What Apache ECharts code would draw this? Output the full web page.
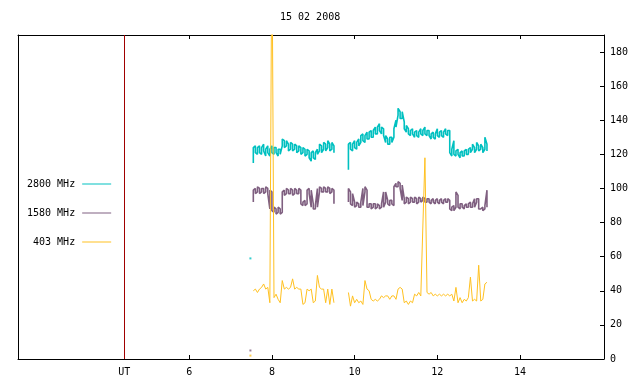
<!DOCTYPE html>
<html><head><meta charset="utf-8">
<script src="https://cdn.jsdelivr.net/npm/echarts@6/dist/echarts.min.js"></script>
<style>html,body{margin:0;padding:0;background:#fff}#c{width:640px;height:384px}</style>
</head><body><div id="c"></div>
<script>
const chartTitle = '15 02 2008';
const seriesNames = ['2800 MHz', '1580 MHz', '403 MHz'];
const seriesColors = ['#00c0c0', '#7f5f80', '#ffc020'];
const startHour = 7.55, stepHour = 0.05;
// 2800 MHz: low / high edge of the noisy trace at each sample time
const lo2800 = [
115,121,120,121,120,122,119,121,119,121,
120,121,119,120,125,124,125,122,123,122,
123,121,122,120,121,119,120,118,116,118,
117,120,122,121,123,122,124,122,123,121,
null,null,null,null,null,null,
111,123,122,124,123,125,127,128,127,129,
129,130,130,132,132,134,132,131,127,126,
126,127,130,136,143,141,141,135,133,132,
131,132,130,131,130,132,131,132,131,131,
129,130,129,131,130,131,130,132,131,121,
119,120,119,120,118,119,119,120,120,121,
123,121,123,122,123,121,123,122];
const hi2800 = [
124,125,124,125,124,126,123,125,123,125,
124,124,123,123,129,128,128,126,127,126,
126,125,125,124,124,123,123,122,121,122,
121,123,126,125,127,126,128,126,127,125,
null,null,null,null,null,null,
126,127,126,128,127,129,131,132,131,133,
133,134,134,136,136,138,136,135,131,129,
130,130,135,140,147,145,145,139,137,135,
134,135,133,134,133,135,134,136,134,134,
132,133,132,135,133,134,133,135,134,134,
123,128,122,123,121,122,122,123,123,124,
126,124,127,125,126,124,130,126];
// 1580 MHz: low / high edge of the trace
const lo1580 = [
92,97,98,97,98,97,98,97,88,87,
86,85,86,85,86,96,97,97,97,96,
97,97,97,91,90,90,91,97,89,88,
88,89,98,98,98,98,98,97,98,91,
null,null,null,null,null,null,
92,91,90,89,90,89,89,90,98,89,
89,88,89,88,89,88,89,89,92,91,
90,91,90,101,101,100,93,91,92,91,
92,92,92,91,92,92,93,92,92,92,
91,92,91,92,91,92,91,92,92,88,
87,87,89,89,88,89,88,89,89,89,
89,89,92,88,88,87,88,89];
const hi1580 = [
99,100,101,100,100,100,101,100,99,98,
89,88,89,88,98,99,100,99,100,99,
100,99,100,99,92,93,99,100,99,91,
90,100,101,100,101,100,101,100,100,99,
null,null,null,null,null,null,
100,98,97,92,92,91,92,100,101,99,
91,91,91,91,91,90,91,98,98,93,
93,93,101,103,104,103,102,94,95,94,
95,94,95,94,95,94,95,94,94,94,
93,94,93,94,93,94,93,94,94,93,
89,90,98,96,91,91,90,91,91,92,
91,94,94,94,89,89,90,99];
// 403 MHz trace
const f403 = [
40,41,39,41,42,44,41,42,33,250,
36,38,35,33,46,41,42,41,42,47,
41,42,41,41,32,33,41,40,41,33,
34,49,42,41,41,33,41,32,41,33,
null,null,null,null,null,null,
39,31,37,33,35,33,34,32,46,41,
40,35,34,35,34,35,37,36,37,37,
35,37,37,35,41,42,41,33,34,32,
34,33,38,37,39,37,78,118,39,38,
39,37,38,37,38,37,38,37,38,37,
38,34,42,33,36,33,35,34,36,48,
34,35,34,55,34,35,44,45];
const isolatedHour = 7.48;
const isolatedValues = [59, 5, 2];
const xTickValues = [6, 8, 10, 12, 14];
const utHour = 4.43;
const utLabel = 'UT';
const yTickValues = [0, 20, 40, 60, 80, 100, 120, 140, 160, 180];
const xMin = 1.86, xMax = 16.03, yMin = 0, yMax = 190;

const FONT = 'DejaVu Sans Mono';
const hourAt = i => +(startHour + stepHour * i).toFixed(2);
const bandPairs = (lo, hi) => {
  const out = [];
  lo.forEach((l, i) => {
    const t = hourAt(i);
    if (l === null) { out.push([t, null]); return; }
    if (i % 2 === 0) { out.push([t, l], [t, hi[i]]); } else { out.push([t, hi[i]], [t, l]); }
  });
  return out;
};
const linePairs = vals => vals.map((v, i) => [hourAt(i), v]);
const dataSets = [bandPairs(lo2800, hi2800), bandPairs(lo1580, hi1580), linePairs(f403)];
const lineWidths = [1.6, 1.6, 1];

const series = dataSets.map((d, k) => ({
  type: 'line', name: seriesNames[k], data: d,
  symbol: 'none', connectNulls: false, clip: true,
  lineStyle: { width: lineWidths[k], color: seriesColors[k] },
  itemStyle: { color: seriesColors[k] },
  animation: false
}));
series[0].markLine = {
  silent: true, symbol: ['none', 'none'], label: { show: false }, animation: false,
  lineStyle: { color: '#a00000', width: 1, type: 'solid' },
  data: [{ xAxis: utHour }]
};
isolatedValues.forEach((v, k) => series.push({
  type: 'scatter', name: 'pt' + k, data: [[isolatedHour, v]], symbol: 'rect', symbolSize: 2,
  itemStyle: { color: seriesColors[k] }, animation: false
}));

const chart = echarts.init(document.getElementById('c'));
chart.setOption({
  animation: false,
  backgroundColor: '#fff',
  title: { text: chartTitle, left: 275, top: 7, textStyle: { fontFamily: FONT, fontSize: 10, fontWeight: 'normal', color: '#000' } },
  grid: { left: 18, right: 36, top: 35, bottom: 25 },
  legend: {
    data: seriesNames, orient: 'vertical', left: 22, top: 174, itemWidth: 29, itemHeight: 1, itemGap: 19,
    icon: 'rect', align: 'right', selectedMode: false,
    formatter: name => '{n|' + name + '}',
    textStyle: { fontFamily: FONT, fontSize: 10, color: '#000', rich: { n: { width: 48, padding: [0, 2, 0, 0], align: 'right', fontFamily: FONT, fontSize: 10, color: '#000' } } }
  },
  xAxis: [{
    type: 'value', min: xMin, max: xMax, position: 'bottom',
    axisLine: { show: true, onZero: false, lineStyle: { color: '#000', width: 1 } },
    axisTick: { show: true, inside: true, length: 4, customValues: xTickValues, lineStyle: { color: '#000' } },
    axisLabel: { customValues: [utHour].concat(xTickValues), formatter: v => Math.abs(v - utHour) < 1e-6 ? utLabel : String(v), fontFamily: FONT, fontSize: 10, color: '#000', margin: 8 },
    splitLine: { show: false }
  }, {
    type: 'value', min: xMin, max: xMax, position: 'top',
    axisLine: { show: true, onZero: false, lineStyle: { color: '#000', width: 1 } },
    axisTick: { show: true, inside: true, length: 4, customValues: xTickValues, lineStyle: { color: '#000' } },
    axisLabel: { show: false }, splitLine: { show: false }
  }],
  yAxis: [{
    type: 'value', min: yMin, max: yMax, position: 'right',
    axisLine: { show: true, onZero: false, lineStyle: { color: '#000', width: 1 } },
    axisTick: { show: true, inside: true, length: 4, customValues: yTickValues, lineStyle: { color: '#000' } },
    axisLabel: { customValues: yTickValues, fontFamily: FONT, fontSize: 10, color: '#000', margin: 6 },
    splitLine: { show: false }
  }, {
    type: 'value', min: yMin, max: yMax, position: 'left',
    axisLine: { show: true, onZero: false, lineStyle: { color: '#000', width: 1 } },
    axisTick: { show: false }, axisLabel: { show: false }, splitLine: { show: false }
  }],
  series: series
});
</script></body></html>
